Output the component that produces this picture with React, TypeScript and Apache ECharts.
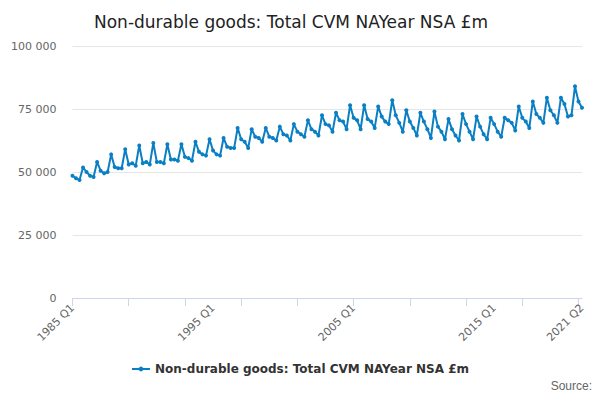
import { useEffect, useRef } from "react";
import * as echarts from "echarts";

const seriesName = "Non-durable goods: Total CVM NAYear NSA £m";

// quarterly values, £m thousands (Q1..Q4 per year), 1985 Q1 – 2021 Q2
const yearlyQuarters: number[][] = [
  [48.5, 47.5, 46.8, 51.8],
  [50, 48.5, 48, 54],
  [50.5, 49.5, 50, 57],
  [52, 51.5, 51.5, 59],
  [53, 53.5, 52.5, 60.5],
  [53.5, 54, 53, 61.5],
  [54, 54, 53.5, 61],
  [55, 55, 54.5, 61],
  [56, 55.5, 54.5, 62],
  [58, 57, 56.5, 63],
  [58.5, 57, 56.5, 63.5],
  [60, 59.5, 59.5, 67.5],
  [63, 62, 59.5, 67],
  [64, 63.5, 62, 67.5],
  [64, 63.5, 62.5, 68],
  [65, 64.5, 62.5, 69],
  [66, 65, 64, 70.5],
  [67, 66, 64.5, 72.5],
  [69, 68.5, 66, 73.5],
  [70.5, 70, 67, 76.5],
  [71.5, 70.5, 67, 76.5],
  [71, 70, 67.5, 76],
  [72, 70, 69, 78.5],
  [72.5, 69.5, 66, 74.5],
  [70, 67.5, 64.5, 73.5],
  [70, 67, 63.5, 74],
  [68, 66, 63, 71],
  [67, 64.5, 62.5, 73],
  [69, 66, 63, 72],
  [68, 65, 63, 71.5],
  [69, 66, 64, 71.5],
  [70.5, 69.5, 66.5, 76],
  [71.5, 70, 67.5, 78],
  [73, 71.5, 69.5, 79.5],
  [74.5, 72.5, 69.5, 79.5],
  [77, 72, 72.5, 84],
  [78, 75.5],
];

const categories: string[] = [];
const values: number[] = [];
yearlyQuarters.forEach((qs, i) => {
  qs.forEach((v, q) => {
    categories.push(`${1985 + i} Q${q + 1}`);
    values.push(Math.round(v * 1000));
  });
});

const shownLabels = ["1985 Q1", "1995 Q1", "2005 Q1", "2015 Q1", "2021 Q2"];

export default function App() {
  const chartRef = useRef<HTMLDivElement>(null);

  useEffect(() => {
    if (!chartRef.current) return;
    const chart = echarts.init(chartRef.current, null, { renderer: "svg" });
    chart.setOption({
      animation: false,
      textStyle: { fontFamily: "DejaVu Sans" },
      title: {
        text: seriesName,
        left: 81,
        top: 0,
        textStyle: { fontSize: 17, fontWeight: "normal", color: "#222" },
      },
      grid: { left: 63, right: 10, top: 38, bottom: 94 },
      xAxis: {
        type: "category",
        data: categories,
        boundaryGap: false,
        axisLine: { lineStyle: { color: "#ccd6eb" } },
        axisTick: {
          lineStyle: { color: "#ccd6eb" },
          length: 8,
          interval: (i: number) => i % 16 === 0,
        },
        axisLabel: {
          rotate: 45,
          color: "#666",
          fontSize: 11,
          interval: (_i: number, v: string) => shownLabels.includes(v),
        },
      },
      yAxis: {
        type: "value",
        min: 0,
        max: 100000,
        interval: 25000,
        axisLabel: {
          color: "#666",
          fontSize: 11,
          margin: 16,
          formatter: (v: number) => (v >= 1000 ? `${Math.floor(v / 1000)} ${String(v % 1000).padStart(3, "0")}` : `${v}`),
        },
        splitLine: { lineStyle: { color: "#e6e6e6" } },
      },
      legend: {
        bottom: 12,
        left: "center",
        itemWidth: 18,
        itemHeight: 6,
        textStyle: { fontSize: 12, fontWeight: "bold", color: "#333" },
      },
      graphic: [
        { type: "text", right: 0, bottom: 0, style: { text: "Source:", fontSize: 12, fill: "#666" } },
      ],
      series: [
        {
          name: seriesName,
          type: "line",
          data: values,
          symbol: "circle",
          symbolSize: 4,
          showSymbol: true,
          showAllSymbol: true,
          itemStyle: { color: "#0b7fc4" },
          lineStyle: { width: 2, color: "#0b7fc4" },
        },
      ],
    });
    return () => chart.dispose();
  }, []);

  return <div ref={chartRef} style={{ width: 584, height: 384 }} />;
}
